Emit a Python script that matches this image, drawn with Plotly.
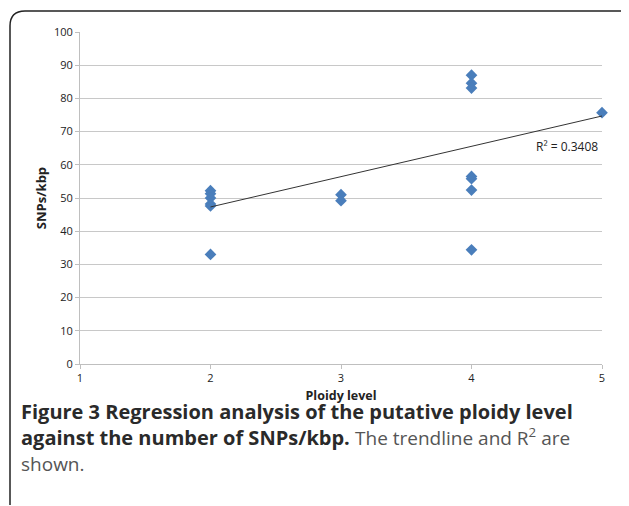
import plotly.graph_objects as go

# Data
ploidy = [2, 2, 2, 2, 2, 2, 3, 3, 4, 4, 4, 4, 4, 4, 4, 5]
snps_per_kbp = [52.2, 51.3, 50.0, 48.2, 47.6, 33.0, 51.0, 49.2,
                87.0, 84.6, 83.1, 56.5, 55.8, 52.4, 34.4, 75.7]
trend_x = [2, 5]
trend_y = [47.3, 74.7]
r2_label = "R² = 0.3408"
x_ticks = [1, 2, 3, 4, 5]
y_ticks = [0, 10, 20, 30, 40, 50, 60, 70, 80, 90, 100]

# page body has an 8px margin, so the figure is offset by 8px
OFF = 8
W, H = 629 - OFF, 506 - OFF
L, R, T, B = 80 - OFF, 27, 32 - OFF, 142
pw, ph = W - L - R, H - T - B

def px(x):  # screen pixel -> paper
    return (x - OFF - L) / pw

def py(y):
    return (H - B - (y - OFF)) / ph

fig = go.Figure()
fig.add_trace(go.Scatter(
    x=ploidy, y=snps_per_kbp, mode="markers",
    marker=dict(symbol="diamond", size=9, color="#4a7ebb", line=dict(width=0)),
    showlegend=False, cliponaxis=False))
fig.add_trace(go.Scatter(
    x=trend_x, y=trend_y, mode="lines",
    line=dict(color="#333333", width=1), showlegend=False))

tickfont = dict(family="Open Sans", size=11, color="#222222")
fig.update_xaxes(range=[1, 5], tickvals=x_ticks, showgrid=False, zeroline=False,
                 showline=True, linecolor="#bfbfbf", linewidth=1,
                 ticks="outside", ticklen=4, tickcolor="#bfbfbf",
                 tickfont=tickfont,
                 title=dict(text="<b>Ploidy level</b>", font=dict(family="Open Sans", size=12.5, color="#222"), standoff=7))
fig.update_yaxes(range=[0, 100], tickvals=y_ticks, showgrid=True, gridcolor="#c8c8c8", gridwidth=1,
                 zeroline=False, showline=True, linecolor="#bfbfbf", linewidth=1,
                 ticks="outside", ticklen=4, tickcolor="#bfbfbf",
                 tickfont=tickfont,
                 title=dict(text="<b>SNPs/kbp</b>", font=dict(family="Open Sans", size=13, color="#222"), standoff=4))

fig.add_annotation(x=4.73, y=65.4, text=r2_label, showarrow=False,
                   font=dict(family="Open Sans", size=12, color="#222"))

# Caption (one multi-line text)
caption = ("<b>Figure 3 Regression analysis of the putative ploidy level</b><br>"
           "<b>against the number of SNPs/kbp.</b> "
           "<span style='color:#555;font-size:19px'>The trendline and R<sup>2</sup> are</span><br>"
           "<span style='color:#555;font-size:19px'>shown.</span>")
fig.add_annotation(xref="paper", yref="paper", x=px(19), y=py(437), xanchor="left", yanchor="middle",
                   text=caption, showarrow=False, align="left",
                   font=dict(family="Open Sans", size=20, color="#2a2a2a"))

# Frame (rounded top-left, open bottom/right)
path = (f"M {px(10)},{py(505)} L {px(10)},{py(26)} "
        f"Q {px(10)},{py(11)} {px(25)},{py(11)} "
        f"L {px(622)},{py(11)} Q {px(627)},{py(11)} {px(628)},{py(15)}")
fig.add_shape(type="path", xref="paper", yref="paper", path=path,
              line=dict(color="#222222", width=1.5))

fig.update_layout(width=W, height=H, margin=dict(l=L, r=R, t=T, b=B),
                  paper_bgcolor="white", plot_bgcolor="white")
fig.write_html("out.html")
